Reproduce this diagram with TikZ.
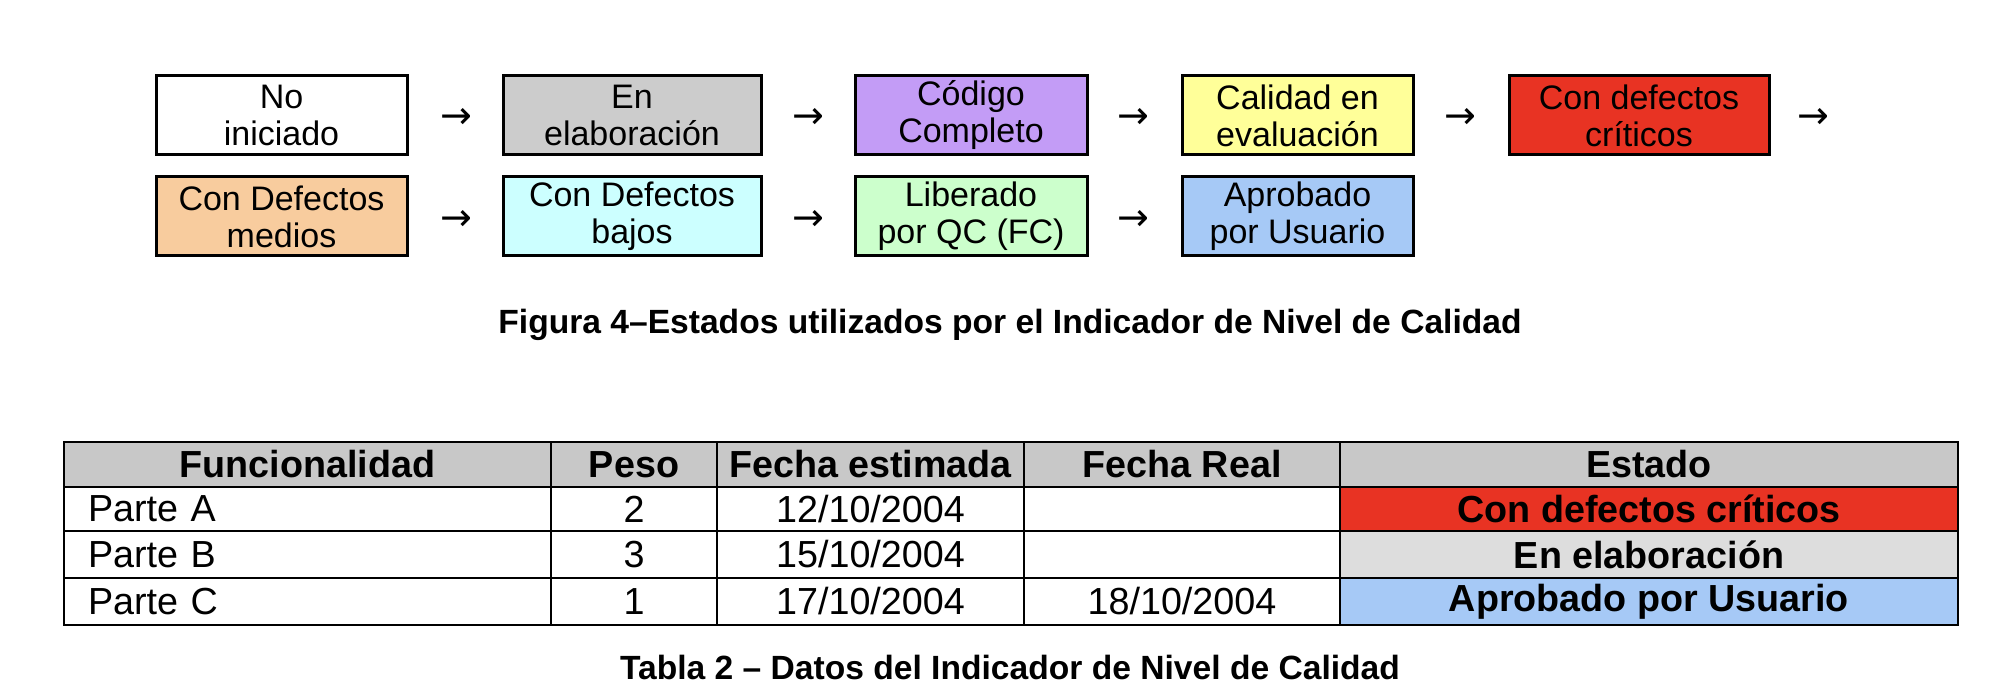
\documentclass[tikz,border=0pt]{standalone}
\usepackage{fontspec}
\setmainfont{Liberation Sans}
\newfontfamily\arrowfont{DejaVu Sans}
\definecolor{cgray}{HTML}{CCCCCC}
\definecolor{cpurple}{HTML}{C39CF6}
\definecolor{cyellow}{HTML}{FFFF99}
\definecolor{cred}{HTML}{E83323}
\definecolor{corange}{HTML}{F8CC9E}
\definecolor{ccyan}{HTML}{CCFFFF}
\definecolor{cgreen}{HTML}{CCFFCC}
\definecolor{cblue}{HTML}{A6C9F6}
\definecolor{hgray}{HTML}{C8C8C8}
\definecolor{lgray}{HTML}{DDDDDD}
\begin{document}
\begin{tikzpicture}[x=1pt,y=-1pt,
  sbox/.style={draw=black, line width=3pt, inner sep=0pt, minimum height=79pt,
    minimum width=#1, align=center, font=\fontsize{34}{37}\selectfont},
  arr/.style={inner sep=0pt, font=\arrowfont\fontsize{38}{38}\selectfont},
  captxt/.style={inner sep=0pt, font=\bfseries\fontsize{33.6}{36}\selectfont},
  cell/.style={draw=black, line width=2.5pt, inner sep=0pt, minimum width=#1,
    font=\fontsize{37.7}{40}\selectfont},
  hcell/.style={cell=#1, fill=hgray, font=\bfseries\fontsize{37.7}{40}\selectfont},
  lcell/.style={cell=#1, text width=#1-48pt, align=left, inner xsep=24pt}
]
\useasboundingbox (0,0) rectangle (2008,700);
\fill[white] (0,0) rectangle (2008,700);

% Row 1
\node[sbox=251pt] (b1) at (281.5,115.5) {No\\iniciado};
\node[sbox=258pt, fill=cgray] (b2) at (632,115.5) {En\\elaboración};
\node[sbox=232pt, fill=cpurple] (b3) at (971,115.5) {Código\\Completo};
\node[sbox=231pt, fill=cyellow] (b4) at (1297.5,115.5) {Calidad en\\evaluación};
\node[sbox=260pt, fill=cred] (b5) at (1639,115.5) {Con defectos\\críticos};
% Row 2
\node[sbox=251pt, fill=corange] (c1) at (281.5,216.5) {Con Defectos\\medios};
\node[sbox=258pt, fill=ccyan] (c2) at (632,216.5) {Con Defectos\\bajos};
\node[sbox=232pt, fill=cgreen] (c3) at (971,216.5) {Liberado\\por QC (FC)};
\node[sbox=231pt, fill=cblue] (c4) at (1297.5,216.5) {Aprobado\\por Usuario};

% Arrows (text glyphs)
\node[arr] (a1) at (456,118) {→};
\node[arr] (a2) at (808,118) {→};
\node[arr] (a3) at (1133,118) {→};
\node[arr] (a4) at (1460,118) {→};
\node[arr] (a5) at (1813,118) {→};
\node[arr] (a6) at (456,220) {→};
\node[arr] (a7) at (808,220) {→};
\node[arr] (a8) at (1133,220) {→};

\node[captxt] (cap1) at (1010,325) {Figura 4–Estados utilizados por el Indicador de Nivel de Calidad};

% Table: columns 64,551,717,1024,1340,1958 ; rows 442,487,531,578,625
\node[hcell=487pt, minimum height=45pt] (h1) at (307.5,464.5) {Funcionalidad};
\node[hcell=166pt, minimum height=45pt] (h2) at (634,464.5) {Peso};
\node[hcell=307pt, minimum height=45pt] (h3) at (870.5,464.5) {Fecha estimada};
\node[hcell=316pt, minimum height=45pt] (h4) at (1182,464.5) {Fecha Real};
\node[hcell=618pt, minimum height=45pt] (h5) at (1649,464.5) {Estado};

\node[lcell=487pt, minimum height=44pt] (r11) at (307.5,509) {Parte A};
\node[cell=166pt, minimum height=44pt] (r12) at (634,509) {2};
\node[cell=307pt, minimum height=44pt] (r13) at (870.5,509) {12/10/2004};
\node[cell=316pt, minimum height=44pt] (r14) at (1182,509) {};
\node[cell=618pt, minimum height=44pt, fill=cred, font=\bfseries\fontsize{37.7}{40}\selectfont] (r15) at (1649,509) {Con defectos críticos};

\node[lcell=487pt, minimum height=47pt] (r21) at (307.5,554.5) {Parte B};
\node[cell=166pt, minimum height=47pt] (r22) at (634,554.5) {3};
\node[cell=307pt, minimum height=47pt] (r23) at (870.5,554.5) {15/10/2004};
\node[cell=316pt, minimum height=47pt] (r24) at (1182,554.5) {};
\node[cell=618pt, minimum height=47pt, fill=lgray, font=\bfseries\fontsize{37.7}{40}\selectfont] (r25) at (1649,554.5) {En elaboración};

\node[lcell=487pt, minimum height=47pt] (r31) at (307.5,601.5) {Parte C};
\node[cell=166pt, minimum height=47pt] (r32) at (634,601.5) {1};
\node[cell=307pt, minimum height=47pt] (r33) at (870.5,601.5) {17/10/2004};
\node[cell=316pt, minimum height=47pt] (r34) at (1182,601.5) {18/10/2004};
\node[cell=618pt, minimum height=47pt, fill=cblue, font=\bfseries\fontsize{37.7}{40}\selectfont] (r35) at (1649,601.5) {Aprobado por Usuario};

\node[captxt] (cap2) at (1010,667) {Tabla 2 – Datos del Indicador de Nivel de Calidad};
\end{tikzpicture}
\end{document}
